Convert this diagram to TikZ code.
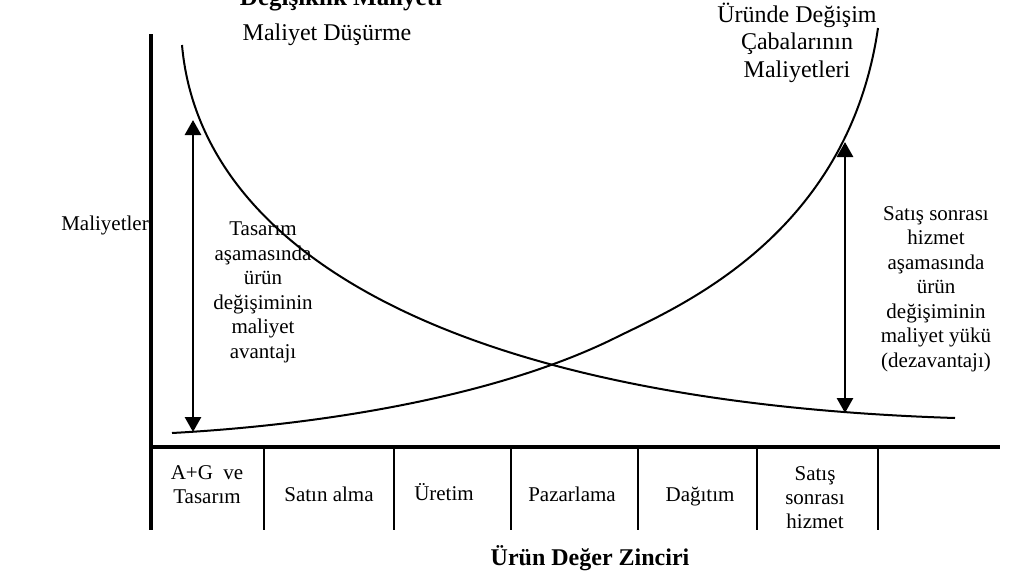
\documentclass[tikz,border=0pt]{standalone}
\usepackage{fontspec}
\setmainfont{Liberation Serif}
\usetikzlibrary{arrows.meta}
\begin{document}
\begin{tikzpicture}[x=1pt,y=-1pt,
  axisline/.style={line width=4pt},
  divline/.style={line width=2.2pt},
  curveline/.style={line width=2pt},
  dimarrow/.style={line width=2.8pt,{Triangle[width=16pt,length=15pt]}-{Triangle[width=16pt,length=15pt]}},
  lbl/.style={inner sep=0pt,align=center,anchor=base,font=\fontsize{21}{24.5}\selectfont},
  biglbl/.style={inner sep=0pt,align=center,anchor=base,font=\fontsize{24}{27.5}\selectfont},
  titlelbl/.style={inner sep=0pt,anchor=base,font=\fontsize{25}{28}\selectfont\bfseries}]
\useasboundingbox (0,0) rectangle (1023,574);

% axes
\coordinate (ytop) at (151,34);
\coordinate (ybot) at (151,530);
\coordinate (xl) at (149,447);
\coordinate (xr) at (1000,447);
\draw[axisline] (ytop) -- (ybot);
\draw[axisline] (xl) -- (xr);

% box dividers
\foreach \x/\n in {264/a,394/b,511/c,638/d,757/e,878/f}{
  \coordinate (d\n t) at (\x,447);
  \coordinate (d\n b) at (\x,530);
  \draw[divline] (d\n t) -- (d\n b);
}

% decreasing curve
\coordinate (ds) at (182,45);
\coordinate (de) at (955,418);
\draw[curveline] (ds) .. controls (200,250) and (450,402) .. (de);

% increasing curve
\coordinate (is) at (172,433);
\coordinate (im) at (617,337);
\coordinate (ie) at (878,28);
\draw[curveline] (is) .. controls (320,425) and (497,397) .. (im)
  .. controls (680,306) and (848,235) .. (ie);

% arrows
\coordinate (la1) at (193,120);
\coordinate (la2) at (193,432);
\coordinate (ra1) at (845,142);
\coordinate (ra2) at (845,413);
\draw[dimarrow] (la2) -- (la1);
\draw[dimarrow] (ra2) -- (ra1);

% texts (base anchor = baseline of the last line)
\node[titlelbl] (title) at (341,5) {Değişiklik Maliyeti};
\node[biglbl] (md) at (327,40) {Maliyet Düşürme};
\node[biglbl] (ude) at (797,77) {Üründe Değişim\\Çabalarının\\Maliyetleri};
\node[biglbl,font=\fontsize{21}{24}\selectfont] (mal) at (105,230) {Maliyetler};
\node[lbl] (left) at (263,358) {Tasarım\\aşamasında\\ürün\\değişiminin\\maliyet\\avantajı};
\node[lbl] (right) at (936,367) {Satış sonrası\\hizmet\\aşamasında\\ürün\\değişiminin\\maliyet yükü\\(dezavantajı)};

\node[lbl,font=\fontsize{21}{23.5}\selectfont] (b1) at (207,503) {A+G\ \ ve\\Tasarım};
\node[lbl] (b2) at (329,501) {Satın alma};
\node[lbl] (b3) at (444,500) {Üretim};
\node[lbl] (b4) at (572,501) {Pazarlama};
\node[lbl] (b5) at (700,501) {Dağıtım};
\node[lbl,font=\fontsize{21}{24}\selectfont] (b6) at (815,528) {Satış\\sonrası\\hizmet};

\node[titlelbl,font=\fontsize{24}{28}\selectfont\bfseries] (zin) at (590,565) {Ürün Değer Zinciri};
\end{tikzpicture}
\end{document}
